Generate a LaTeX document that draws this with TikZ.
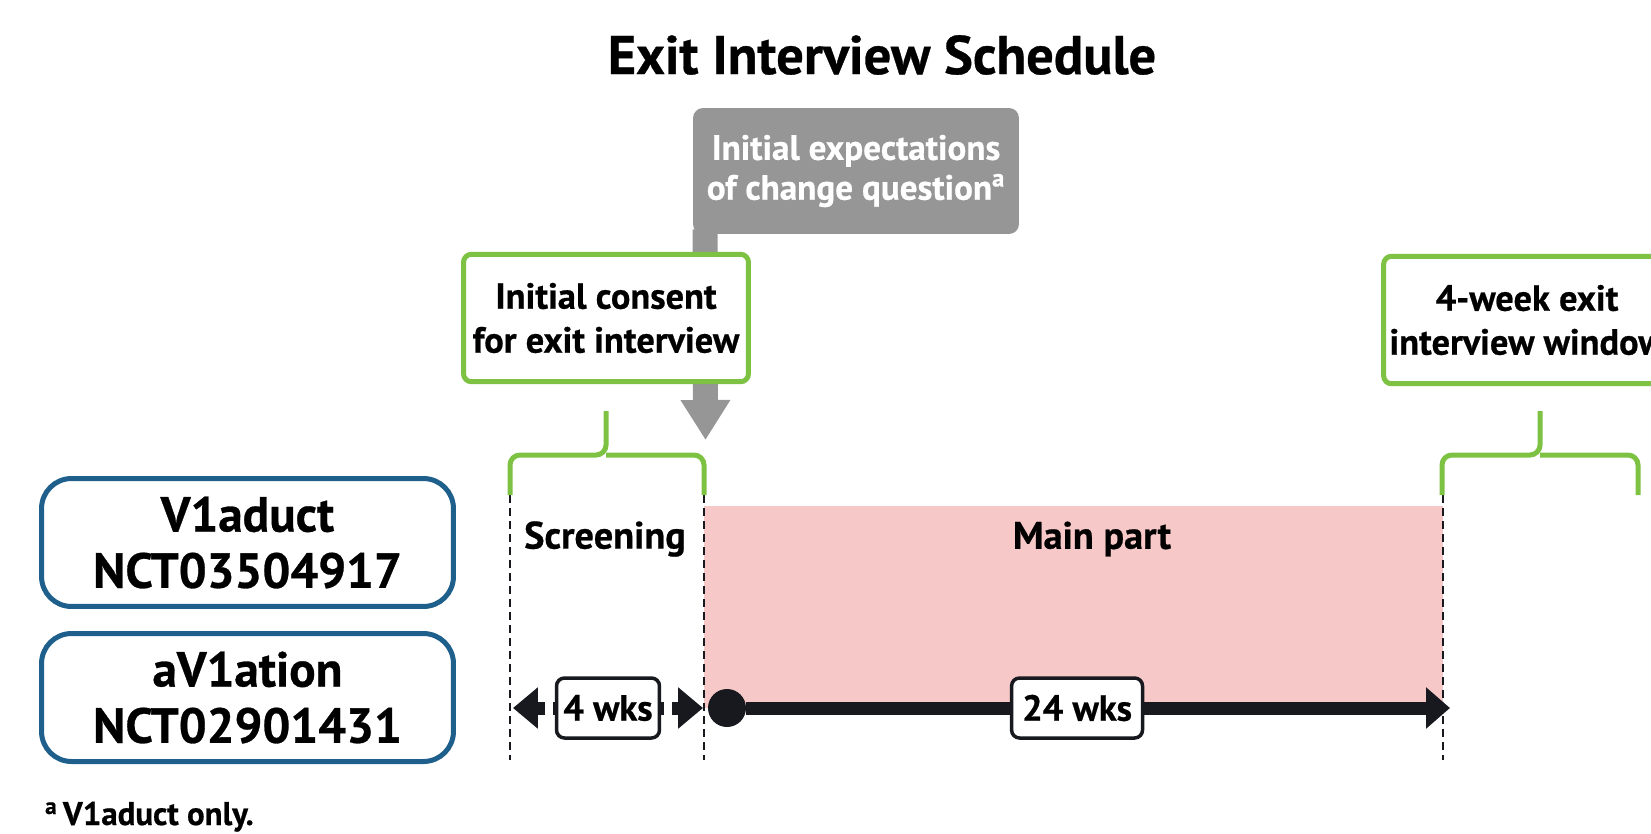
\documentclass[tikz,border=0pt]{standalone}
\usepackage{fontspec}
\setmainfont{PT Sans}[BoldFeatures={FakeBold=0.6}]
\usetikzlibrary{arrows.meta}
\definecolor{gboxgreen}{HTML}{7DC242}
\definecolor{trialblue}{HTML}{1F5F8B}
\definecolor{qgray}{HTML}{969696}
\definecolor{mainpink}{HTML}{F6C8C8}
\definecolor{ink}{HTML}{17191E}

\begin{document}
\begin{tikzpicture}[x=0.02cm,y=-0.02cm,font=\bfseries,
  gbox/.style={draw=gboxgreen,line width=0.1cm,fill=white,rounded corners=0.16cm,
               minimum width=5.7cm,minimum height=2.55cm,align=center,
               font=\bfseries\fontsize{20.7}{25}\selectfont},
  qbox/.style={fill=qgray,rounded corners=0.2cm,minimum width=6.52cm,minimum height=2.52cm,
               align=center,text=white,font=\bfseries\fontsize{20}{22.7}\selectfont},
  trial/.style={draw=trialblue,line width=0.1cm,rounded corners=0.6cm,
               minimum width=8.24cm,minimum height=2.56cm,align=center,
               font=\bfseries\fontsize{28}{32}\selectfont},
  wks/.style={draw=ink,solid,line width=0.07cm,fill=white,rounded corners=0.16cm,
               minimum height=1.2cm,font=\bfseries\fontsize{20.7}{22}\selectfont},
  brace/.style={draw=gboxgreen,line width=0.1cm,rounded corners=0.2cm},
  guide/.style={draw=ink,line width=1.1pt,dash pattern=on 0.16cm off 0.1cm},
  bar/.style={draw=ink,line width=0.26cm},
  phase/.style={font=\bfseries\fontsize{21.8}{24}\selectfont}]

\clip (0,0) rectangle (1651,833);

\node[font=\bfseries\fontsize{31}{36}\selectfont] (title) at (882,55) {Exit Interview Schedule};

\fill[mainpink] (704,506) rectangle (1443,708);
\foreach \x in {510,704,1443}
	\draw[guide] (\x,495) -- (\x,760);

\node[qbox]   (question)   at (856,171)   {Initial expectations\\of change question\textsuperscript{a}};
	\coordinate (qtip) at (705.5,440);
	\draw[line width=0.5cm,draw=qgray,-{Triangle[length=0.8cm,width=0.94cm]}]
		([xshift=0.25cm,yshift=0.1cm]question.south west) -- (qtip);

\node[gbox]   (consent)   at (606,318)   {Initial consent\\for exit interview};
\node[gbox]   (window)    at (1527,320)  {4-week exit\\interview window};

\draw[brace] (510,495) |- (606,455) -- (606,411) (606,455) -| (704,495);
\draw[brace] (1442,495) |- (1540,455) -- (1540,411) (1540,455) -| (1638,495);

\node[trial]  (viaduct)   at (247.5,542.5)  {V1aduct\\NCT03504917};
	\node[trial]  (aviation)  at (247.5,697.5)  {aV1ation\\NCT02901431};

\node[phase]  (screen)    at (605,539)   {Screening};
\node[phase]  (mainpart)  at (1092,539)  {Main part};

\node[circle,fill=ink,minimum size=0.76cm,inner sep=0pt] (start) at (727,708) {};
	\coordinate (mainend) at (1450,708);
	\coordinate (sl) at (513,708);
	\coordinate (sr) at (703,708);

\path (start) edge[bar,-{Triangle[length=0.48cm,width=0.8cm]}]  node[wks,minimum width=2.62cm,pos=.47] (w24) {24 wks}  (mainend)

	  (sl) edge[bar,dash pattern=on 0.18cm off 0.16cm,{Triangle[length=0.5cm,width=0.8cm]}-{Triangle[length=0.5cm,width=0.8cm]}]
				node[wks,minimum width=2.06cm] (w4) {4 wks}  (sr);

\node[anchor=base west,font=\bfseries\fontsize{18.7}{22}\selectfont] (note) at (39,825) {\textsuperscript{a}\,V1aduct only.};

\end{tikzpicture}
\end{document}
